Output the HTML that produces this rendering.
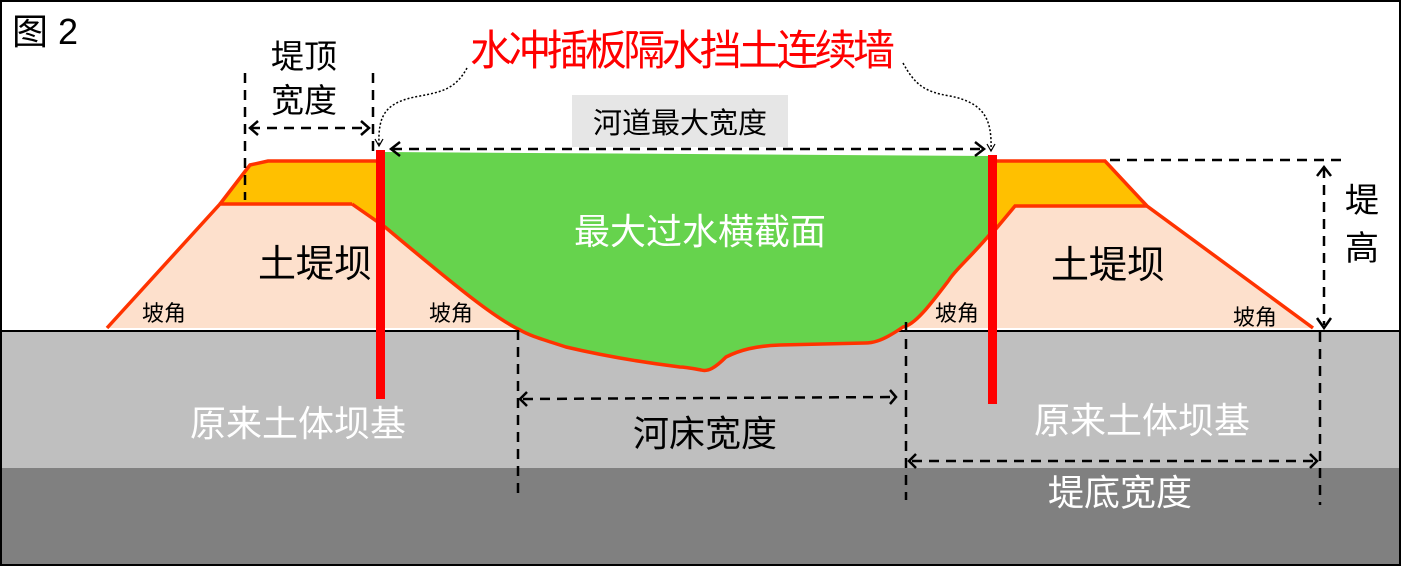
<!DOCTYPE html>
<html><head><meta charset="utf-8"><style>
html,body{margin:0;padding:0;background:#fff}
svg{display:block}
text{font-family:"Liberation Sans","Noto Sans CJK SC",sans-serif}
</style></head><body>
<svg width="1401" height="566" viewBox="0 0 1401 566" xmlns="http://www.w3.org/2000/svg">
<rect x="0" y="0" width="1401" height="566" fill="#fff"/>
<rect x="0" y="331" width="1401" height="137" fill="#bfbfbf"/>
<rect x="0" y="468" width="1401" height="98" fill="#808080"/>
<line x1="0" y1="331" x2="1401" y2="331" stroke="#000" stroke-width="2"/>
<!-- left dam -->
<polygon points="107,328 220,204 352,204 400,230 560,328" fill="#fde0cc"/>
<polygon points="220,204 250,165 268,161 380,161 380,222 352,204" fill="#ffc000"/>
<polyline points="107,328 220,204 352,204" fill="none" stroke="#ff3300" stroke-width="3.5"/>
<polyline points="220,204 250,165 268,161 380,161" fill="none" stroke="#ff3300" stroke-width="3.5"/>
<!-- right dam -->
<polygon points="880,328 960,260 1015,206 1147,206 1313,328" fill="#fde0cc"/>
<polygon points="993,160 1105,161 1147,206 1015,206 995,230" fill="#ffc000"/>
<polyline points="993,161 1105,161 1147,206 1313,328" fill="none" stroke="#ff3300" stroke-width="3.5"/>
<polyline points="995,230 1015,206 1147,206" fill="none" stroke="#ff3300" stroke-width="3.5"/>
<!-- green -->
<path d="M385,152 L990,156 L991,233 C970,258 955,270 949,280 C930,305 915,325 903,327 C880,343 870,343 865,343 L780,345 C755,346 740,350 726,357 C715,368 708,372 701,370 C690,368 685,367 680,367 C640,362 600,355 566,347 C545,340 530,336 520,330 C495,318 460,290 385,227 Z" fill="#66d34d"/>
<path d="M352,204 L385,227 C460,290 495,318 520,330 C530,336 545,340 566,347 C600,355 640,362 680,367 C685,367 690,368 701,370 C708,372 715,368 726,357 C740,350 755,346 780,345 L865,343 C870,343 880,343 903,327 C915,325 930,305 949,280 C955,270 970,258 991,233" fill="none" stroke="#ff3300" stroke-width="3.5"/>
<!-- red walls -->
<rect x="376" y="150" width="9" height="249" fill="#ff0000"/>
<rect x="988" y="155" width="9" height="249" fill="#ff0000"/>
<!-- dashed dims -->
<g stroke="#000" stroke-width="2.5" stroke-dasharray="10,7" fill="none">
<line x1="245" y1="73" x2="245" y2="200"/>
<line x1="373" y1="73" x2="373" y2="155"/>
<line x1="250" y1="128" x2="368" y2="128"/>
<line x1="392" y1="149" x2="982" y2="149"/>
<line x1="1110" y1="160" x2="1348" y2="160"/>
<line x1="1324" y1="168" x2="1324" y2="325"/>
<line x1="518" y1="330" x2="518" y2="500"/>
<line x1="906" y1="322" x2="906" y2="500"/>
<line x1="1320" y1="332" x2="1320" y2="505"/>
<line x1="523" y1="399" x2="894" y2="397"/>
<line x1="912" y1="461" x2="1314" y2="461"/>
</g>
<g stroke="#000" stroke-width="2.5" fill="none">
<polyline points="258,121 250,128 258,135"/>
<polyline points="361,121 369,128 361,135"/>
<polyline points="400,142 391,149 400,156"/>
<polyline points="975,142 984,149 975,156"/>
<polyline points="1317,176 1324,167 1331,176"/>
<polyline points="1317,318 1324,328 1331,318"/>
<polyline points="527,392 520,399 527,406"/>
<polyline points="890,390 896,397 890,404"/>
<polyline points="916,454 909,461 916,468"/>
<polyline points="1310,454 1317,461 1310,468"/>
</g>
<!-- dotted callouts -->
<g stroke="#000" stroke-width="1.5" stroke-dasharray="2,2" fill="none">
<path d="M467,68 C455,90 440,92 420,96 C385,102 378,115 379,145"/>
<path d="M903,63 C915,85 925,92 950,96 C985,103 992,120 991,150"/>
</g>
<polyline points="375,139 379,146 383,139" fill="none" stroke="#000" stroke-width="1.2"/>
<polyline points="987,144 991,151 995,144" fill="none" stroke="#000" stroke-width="1.2"/>
<rect x="572" y="95" width="216" height="52" fill="#e6e6e6"/>
<!-- text -->
<text x="12" y="44" font-size="36" fill="#000">图 2</text>
<text x="470" y="65" font-size="42" fill="#ff0000" textLength="425">水冲插板隔水挡土连续墙</text>
<text x="304" y="68" font-size="33" text-anchor="middle">堤顶</text>
<text x="304" y="112" font-size="33" text-anchor="middle">宽度</text>
<text x="680" y="133" font-size="29" text-anchor="middle">河道最大宽度</text>
<text x="700" y="244" font-size="36" fill="#fff" text-anchor="middle">最大过水横截面</text>
<text x="315" y="277" font-size="38" text-anchor="middle">土堤坝</text>
<text x="1108" y="278" font-size="38" text-anchor="middle">土堤坝</text>
<text x="1362" y="212" font-size="34" text-anchor="middle">堤</text>
<text x="1362" y="260" font-size="34" text-anchor="middle">高</text>
<text x="164" y="321" font-size="22" text-anchor="middle">坡角</text>
<text x="451" y="321" font-size="22" text-anchor="middle">坡角</text>
<text x="957" y="321" font-size="22" text-anchor="middle">坡角</text>
<text x="1255" y="325" font-size="22" text-anchor="middle">坡角</text>
<text x="298" y="436" font-size="36" fill="#fff" text-anchor="middle">原来土体坝基</text>
<text x="1142" y="433" font-size="36" fill="#fff" text-anchor="middle">原来土体坝基</text>
<text x="705" y="446" font-size="36" text-anchor="middle">河床宽度</text>
<text x="1120" y="505" font-size="36" fill="#fff" text-anchor="middle">堤底宽度</text>
<rect x="1" y="1" width="1399" height="564" fill="none" stroke="#000" stroke-width="2"/>
</svg>
</body></html>
